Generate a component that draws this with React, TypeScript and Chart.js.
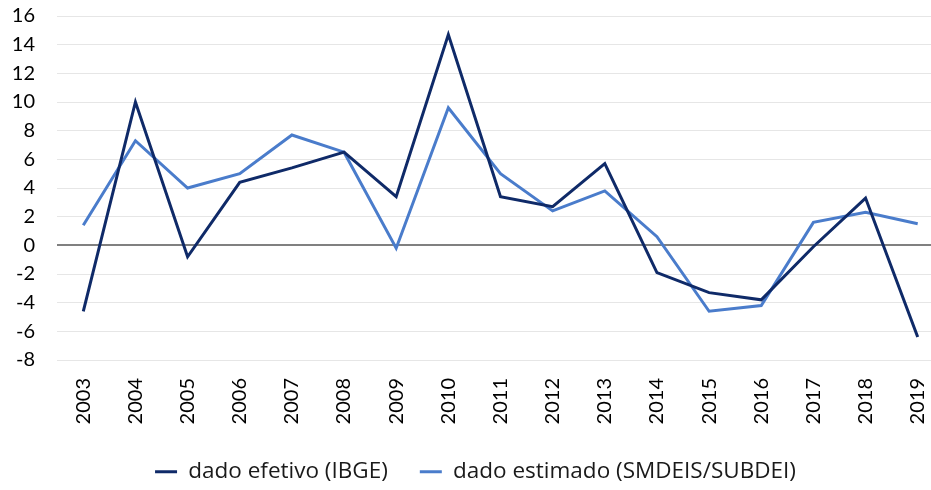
import React, { useEffect, useRef } from "react";
import { Chart, registerables } from "chart.js";

Chart.register(...registerables);

const years = [2003, 2004, 2005, 2006, 2007, 2008, 2009, 2010, 2011, 2012, 2013, 2014, 2015, 2016, 2017, 2018, 2019];
const efetivo = [-4.6, 10.0, -0.8, 4.4, 5.4, 6.5, 3.4, 14.7, 3.4, 2.7, 5.7, -1.9, -3.3, -3.8, -0.1, 3.3, -6.4];
const estimado = [1.4, 7.3, 4.0, 5.0, 7.7, 6.5, -0.2, 9.6, 5.0, 2.4, 3.8, 0.6, -4.6, -4.2, 1.6, 2.3, 1.5];
const yTicks = [-8, -6, -4, -2, 0, 2, 4, 6, 8, 10, 12, 14, 16];
const seriesLabels = ["dado efetivo (IBGE)", "dado estimado (SMDEIS/SUBDEI)"];
const seriesColors = ["#0f2a68", "#4a7ccb"];

const legendShift = {
  id: "legendShift",
  afterLayout(chart: any) {
    const lg = chart.legend;
    if (lg) {
      lg.left += 10;
      lg.right += 10;
      lg.top += 3;
      lg.bottom += 3;
    }
  },
};

export default function App() {
  const ref = useRef<HTMLCanvasElement | null>(null);
  useEffect(() => {
    if (!ref.current) return;
    const chart = new Chart(ref.current, {
      type: "line",
      plugins: [legendShift],
      data: {
        datasets: [
          {
            label: seriesLabels[0],
            data: years.map((y, i) => ({ x: y, y: efetivo[i] })),
            borderColor: seriesColors[0],
            backgroundColor: seriesColors[0],
            borderWidth: 3,
            pointRadius: 0,
            tension: 0,
          },
          {
            label: seriesLabels[1],
            data: years.map((y, i) => ({ x: y, y: estimado[i] })),
            borderColor: seriesColors[1],
            backgroundColor: seriesColors[1],
            borderWidth: 3,
            pointRadius: 0,
            tension: 0,
          },
        ],
      },
      options: {
        animation: false,
        responsive: false,
        layout: { padding: { top: 16, right: 0, left: 0, bottom: 0 } },
        plugins: {
          tooltip: { enabled: false },
          legend: {
            position: "bottom",
            labels: {
              color: "#1a1a1a",
              font: { family: "'Open Sans'", size: 22.5 },
              boxWidth: 22,
              boxHeight: 3,
              padding: 32,
              generateLabels: (c: any) =>
                c.data.datasets.map((d: any, i: number) => ({
                  text: d.label,
                  fillStyle: seriesColors[i],
                  strokeStyle: seriesColors[i],
                  lineWidth: 0,
                  datasetIndex: i,
                  hidden: false,
                  fontColor: "#1a1a1a",
                })),
            },
          },
        },
        scales: {
          x: {
            type: "linear",
            min: 2002.496,
            max: 2019.255,
            afterBuildTicks: (s: any) => {
              s.ticks = years.map((v) => ({ value: v }));
            },
            afterFit: (s: any) => {
              s.height = 65.5;
              s.paddingLeft = 0;
              s.paddingRight = 0;
            },
            grid: { display: false, drawTicks: false },
            border: { display: false },
            ticks: {
              minRotation: 90,
              maxRotation: 90,
              autoSkip: false,
              padding: 18,
              color: "#000",
              font: { family: "Lato", size: 20 },
              callback: (v: any) => String(v),
            },
          },
          y: {
            min: -8,
            max: 16,
            afterBuildTicks: (s: any) => {
              s.ticks = yTicks.map((v) => ({ value: v }));
            },
            afterFit: (s: any) => {
              s.width = 57;
              s.paddingTop = 0;
              s.paddingBottom = 0;
            },
            grid: {
              drawTicks: false,
              color: (ctx: any) => (ctx.tick && ctx.tick.value === 0 ? "#808080" : "#e6e6e6"),
              lineWidth: (ctx: any) => (ctx.tick && ctx.tick.value === 0 ? 2 : 1),
            },
            border: { display: false },
            ticks: {
              padding: 22,
              color: "#000",
              font: { family: "Lato", size: 20 },
            },
          },
        },
      },
    });
    return () => chart.destroy();
  }, []);
  return (
    <div style={{ position: "fixed", left: 0, top: 0, width: 931, height: 490, background: "#fff" }}>
      <canvas ref={ref} width={931} height={490} style={{ display: "block" }} />
    </div>
  );
}
